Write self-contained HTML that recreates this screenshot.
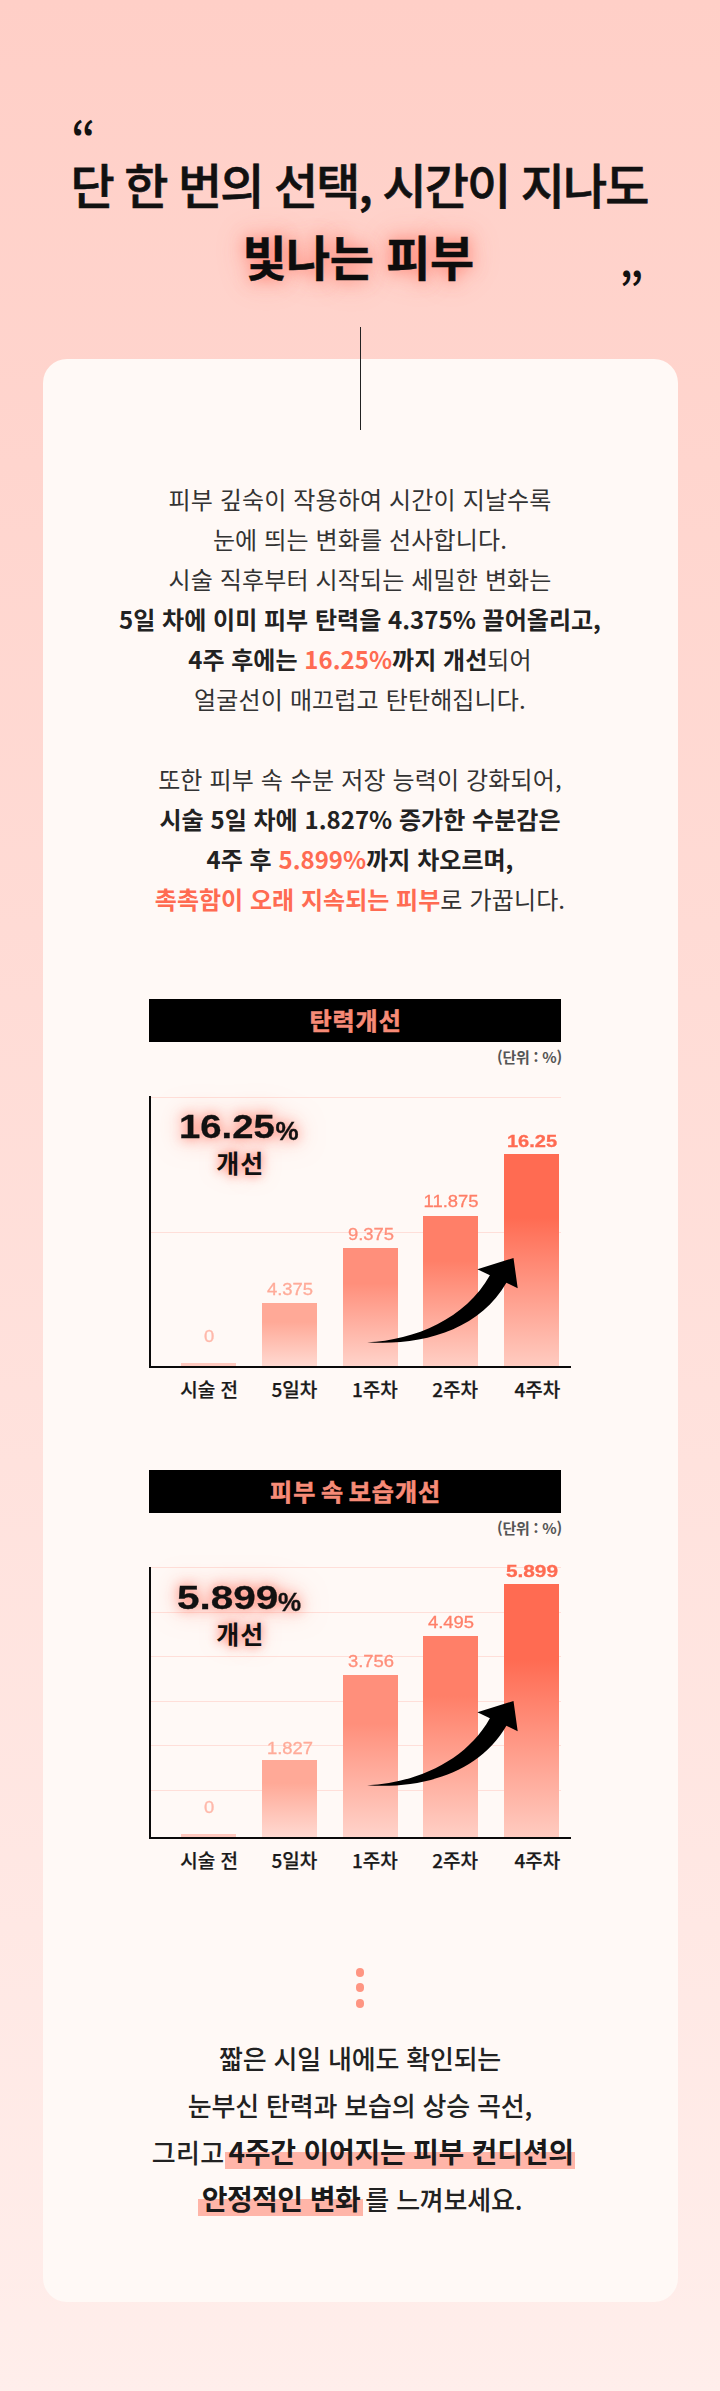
<!DOCTYPE html>
<html lang="ko">
<head>
<meta charset="utf-8">
<title>단 한 번의 선택</title>
<style>
*{margin:0;padding:0;box-sizing:border-box}
html,body{width:720px;height:2391px;overflow:hidden}
body{position:relative;font-family:"Liberation Sans","Noto Sans CJK KR",sans-serif;color:#222;
background:linear-gradient(180deg,#ffcfc7 0px,#ffeeeb 2391px)}
.kr{font-family:"Noto Sans CJK KR","Liberation Sans",sans-serif}
.abs{position:absolute}
.card{left:43px;top:359px;width:635px;height:1943px;background:#fff9f6;border-radius:24px}
.vline{left:359.9px;top:326.5px;width:1.3px;height:103.5px;background:#222}
.title{left:0;width:720px;text-align:center;font-size:48px;line-height:70px;color:#111;white-space:nowrap}
.t1{top:148px;font-weight:500;-webkit-text-stroke:.7px #111;letter-spacing:-1.92px;left:-1px}
.t2{top:220px;left:-2px;font-weight:700;-webkit-text-stroke:.5px #0d0d0d;color:#0d0d0d;letter-spacing:-.5px;text-shadow:0 0 16px rgba(255,95,75,.7),0 0 30px rgba(255,120,100,.45)}
.q{font-size:48px;font-weight:500;color:#111;line-height:1}
.body{left:0;width:720px;text-align:center;font-size:24px;line-height:40px;color:#333;white-space:nowrap;font-weight:400}
.body b{font-weight:700;color:#222;letter-spacing:.03px}
.body .o, .body b.o{color:#ff6b52}

.body{letter-spacing:.15px}
.hdr2{word-spacing:-3px}
.hdr{left:149.2px;width:411.8px;height:42.5px;background:#000;color:#f78b77;-webkit-text-stroke:.6px #f78b77;font-weight:700;font-size:24px;letter-spacing:1px;padding-left:1px;line-height:41px;text-align:center;white-space:nowrap}
.unit{width:200px;text-align:right;font-size:15px;line-height:20px;color:#555;font-weight:700;letter-spacing:-.2px;white-space:nowrap}
.chart{left:0;width:720px}
.grid{left:151px;width:410px;height:1px;background:#ffdfd9}
.yaxis{left:149.2px;width:2.1px;background:#0a0a0a}
.xaxis{left:149.2px;width:421.9px;height:2.1px;background:#0a0a0a}
.bar{width:55px}
.val{width:120px;text-align:center;font-family:"Liberation Sans","Noto Sans CJK KR",sans-serif;font-size:16px;line-height:16px;white-space:nowrap;transform:scaleX(1.15);-webkit-text-stroke:.3px currentColor}
.xl{width:120px;text-align:center;font-size:19px;line-height:24px;font-weight:500;color:#1a1a1a;-webkit-text-stroke:.25px #1a1a1a;white-space:nowrap}
.big{width:240px;text-align:center;white-space:nowrap;color:#111;-webkit-text-stroke:.3px #111;filter:drop-shadow(0 0 6px rgba(255,100,80,.75)) drop-shadow(0 0 12px rgba(255,120,100,.5))}
.big{text-align:left}
.big .n{font-family:"Liberation Sans","Noto Sans CJK KR",sans-serif;font-weight:700;font-size:34px;line-height:36px;display:inline-block;transform-origin:0 50%}
.big .p{font-family:"Liberation Sans","Noto Sans CJK KR",sans-serif;font-size:26px;font-weight:700;position:absolute;top:7.5px}
.big2{width:240px;text-align:center;font-weight:700;font-size:25px;letter-spacing:1px;padding-left:1px;line-height:30px;color:#111;text-shadow:0 0 9px rgba(255,95,75,.8),0 0 18px rgba(255,120,100,.55)}
.dot{left:355.7px;width:8.6px;height:8.6px;margin-top:-.3px;border-radius:50%;background:#ff9683}
.fin{left:0;width:720px;text-align:center;font-size:26px;line-height:47px;color:#222;font-weight:500;white-space:nowrap;letter-spacing:-.2px}
.fin b{font-weight:700;font-size:28px;letter-spacing:-.25px;color:#1a1a1a;background:linear-gradient(180deg,transparent 0,transparent 52%,#ffb5a8 52%,#ffb5a8 96%,transparent 96%);padding:0 4px}
</style>
</head>
<body class="kr">
<div class="abs card"></div>
<div class="abs vline"></div>
<div class="abs q" style="left:71px;top:111.5px">“</div>
<div class="abs title t1">단 한 번의 선택, 시간이 지나도</div>
<div class="abs title t2">빛나는 피부</div>
<div class="abs q" style="left:619px;top:263px">”</div>

<div class="abs body" style="top:479px">
피부 깊숙이 작용하여 시간이 지날수록<br>
눈에 띄는 변화를 선사합니다.<br>
시술 직후부터 시작되는 세밀한 변화는<br>
<b>5일 차에 이미 피부 탄력을 4.375% 끌어올리고,</b><br>
<b>4주 후에는 <span class="o">16.25%</span>까지 개선</b>되어<br>
얼굴선이 매끄럽고 탄탄해집니다.
</div>
<div class="abs body" style="top:759px">
또한 피부 속 수분 저장 능력이 강화되어,<br>
<b>시술 5일 차에 1.827% 증가한 수분감은</b><br>
<b>4주 후 <span class="o">5.899%</span>까지 차오르며,</b><br>
<b class="o">촉촉함이 오래 지속되는 피부</b>로 가꿉니다.
</div>

<div class="abs hdr" style="top:999.3px">탄력개선</div>
<div class="abs unit" style="left:362px;top:1046.7px">(단위 : %)</div>
<div class="abs grid" style="top:1096.7px"></div>
<div class="abs grid" style="top:1231.5px"></div>
<div class="abs bar" style="left:181.2px;top:1363.1px;height:2.5px;background:linear-gradient(180deg,#ffc9bf 0%,#ffc9bf 30%,#ffc9bf 100%)"></div>
<div class="abs bar" style="left:262.2px;top:1302.9px;height:62.7px;background:linear-gradient(180deg,#ffa997 0%,#ffa997 30%,#ffd9d1 100%)"></div>
<div class="abs bar" style="left:343.2px;top:1248.0px;height:117.6px;background:linear-gradient(180deg,#ff8f7b 0%,#ff8f7b 30%,#ffd3ca 100%)"></div>
<div class="abs bar" style="left:423.2px;top:1215.5px;height:150.1px;background:linear-gradient(180deg,#ff7f68 0%,#ff7f68 30%,#ffcfc5 100%)"></div>
<div class="abs bar" style="left:504.2px;top:1154.0px;height:211.6px;background:linear-gradient(180deg,#ff6b52 0%,#ff6b52 30%,#ffcbc0 100%)"></div>
<div class="abs yaxis" style="top:1096.0px;height:271.7px"></div>
<div class="abs xaxis" style="top:1365.6px"></div>
<div class="abs val" style="left:148.7px;top:1329.1px;color:#ffb8aa;font-weight:400">0</div>
<div class="abs val" style="left:229.7px;top:1281.9px;color:#ffab99;font-weight:400">4.375</div>
<div class="abs val" style="left:310.7px;top:1227.0px;color:#ff8f7b;font-weight:400">9.375</div>
<div class="abs val" style="left:390.7px;top:1193.5px;color:#ff7f68;font-weight:400">11.875</div>
<div class="abs val" style="left:471.7px;top:1133.5px;color:#ff6b52;font-weight:700;transform:scaleX(1.25)">16.25</div>
<div class="abs xl" style="left:149.2px;top:1377.0px">시술 전</div>
<div class="abs xl" style="left:234.3px;top:1377.0px">5일차</div>
<div class="abs xl" style="left:314.9px;top:1377.0px">1주차</div>
<div class="abs xl" style="left:395.2px;top:1377.0px">2주차</div>
<div class="abs xl" style="left:477.4px;top:1377.0px">4주차</div>
<div class="abs big" style="left:179px;top:1108.0px"><span class="n" style="transform:scaleX(1.124)">16.25</span><span class="p" style="left:96.5px">%</span></div>
<div class="abs big2" style="left:119.7px;top:1147.0px">개선</div>
<svg class="abs" style="left:0;top:1240.0px" width="720" height="140" viewBox="0 1240 720 140"><path fill="#000" d="M367.1,1342.3 C414.8,1340.3 465.9,1318.4 489.9,1275.2 L477.4,1269.3 L513.5,1258 L517.7,1288.2 L506.4,1282.8 C478.9,1331.2 419.1,1346.1 367.1,1342.3 Z"/></svg>
<div class="abs hdr hdr2" style="top:1470.3px">피부 속 보습개선</div>
<div class="abs unit" style="left:362px;top:1517.7px">(단위 : %)</div>
<div class="abs grid" style="top:1567.2px"></div>
<div class="abs grid" style="top:1611.8px"></div>
<div class="abs grid" style="top:1656.3px"></div>
<div class="abs grid" style="top:1700.8px"></div>
<div class="abs grid" style="top:1745.3px"></div>
<div class="abs grid" style="top:1789.8px"></div>
<div class="abs bar" style="left:181.2px;top:1834.3px;height:2.3px;background:linear-gradient(180deg,#ffc9bf 0%,#ffc9bf 30%,#ffc9bf 100%)"></div>
<div class="abs bar" style="left:262.2px;top:1759.8px;height:76.8px;background:linear-gradient(180deg,#ffa997 0%,#ffa997 30%,#ffd9d1 100%)"></div>
<div class="abs bar" style="left:343.2px;top:1674.8px;height:161.8px;background:linear-gradient(180deg,#ff8f7b 0%,#ff8f7b 30%,#ffd3ca 100%)"></div>
<div class="abs bar" style="left:423.2px;top:1635.7px;height:200.9px;background:linear-gradient(180deg,#ff7f68 0%,#ff7f68 30%,#ffcfc5 100%)"></div>
<div class="abs bar" style="left:504.2px;top:1584.0px;height:252.6px;background:linear-gradient(180deg,#ff6b52 0%,#ff6b52 30%,#ffcbc0 100%)"></div>
<div class="abs yaxis" style="top:1567.0px;height:271.7px"></div>
<div class="abs xaxis" style="top:1836.6px"></div>
<div class="abs val" style="left:148.7px;top:1800.3px;color:#ffb8aa;font-weight:400">0</div>
<div class="abs val" style="left:229.7px;top:1741.3px;color:#ffab99;font-weight:400">1.827</div>
<div class="abs val" style="left:310.7px;top:1654.3px;color:#ff8f7b;font-weight:400">3.756</div>
<div class="abs val" style="left:390.7px;top:1614.7px;color:#ff7f68;font-weight:400">4.495</div>
<div class="abs val" style="left:471.7px;top:1563.5px;color:#ff6b52;font-weight:700;transform:scaleX(1.3)">5.899</div>
<div class="abs xl" style="left:149.2px;top:1848.0px">시술 전</div>
<div class="abs xl" style="left:234.3px;top:1848.0px">5일차</div>
<div class="abs xl" style="left:314.9px;top:1848.0px">1주차</div>
<div class="abs xl" style="left:395.2px;top:1848.0px">2주차</div>
<div class="abs xl" style="left:477.4px;top:1848.0px">4주차</div>
<div class="abs big" style="left:176.5px;top:1579.0px"><span class="n" style="transform:scaleX(1.19)">5.899</span><span class="p" style="left:101.5px">%</span></div>
<div class="abs big2" style="left:119.7px;top:1618.0px">개선</div>
<svg class="abs" style="left:0;top:1683.0px" width="720" height="140" viewBox="0 1240 720 140"><path fill="#000" d="M367.1,1342.3 C414.8,1340.3 465.9,1318.4 489.9,1275.2 L477.4,1269.3 L513.5,1258 L517.7,1288.2 L506.4,1282.8 C478.9,1331.2 419.1,1346.1 367.1,1342.3 Z"/></svg>
<div class="abs dot" style="top:1968.3px"></div>
<div class="abs dot" style="top:1983.7px"></div>
<div class="abs dot" style="top:1999.3px"></div>
<div class="abs fin" style="top:2034px">
짧은 시일 내에도 확인되는<br>
눈부신 탄력과 보습의 상승 곡선,<br>
<span style="position:relative;left:3.5px"><span style="letter-spacing:.3px">그리고</span><b style="letter-spacing:-.25px;padding-right:1.5px">4주간 이어지는 피부 컨디션의</b></span><br>
<span style="position:relative;left:0px"><b style="letter-spacing:-.55px;padding-right:3px">안정적인 변화</b><span style="margin-left:-5px"> 를 느껴보세요.</span></span>
</div>

</body>
</html>
